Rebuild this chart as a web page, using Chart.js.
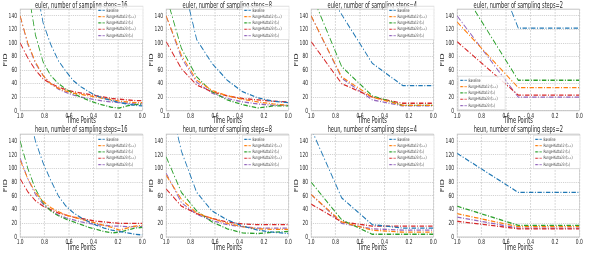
<!DOCTYPE html>
<html>
<head>
<meta charset="utf-8">
<script src="https://cdn.jsdelivr.net/npm/chart.js@4.4.1/dist/chart.umd.min.js"></script>
<style>
  html, body { margin: 0; padding: 0; background: #fff; }
  body { width: 598px; height: 253px; overflow: hidden; position: relative; }
  #fig { position: absolute; left: 0; top: 0; width: 598px; height: 253px; }
  #fig canvas { position: absolute; }
</style>
</head>
<body>
<div id="fig"></div>
<script>
const T16 = [1.0, 0.9375, 0.875, 0.8125, 0.75, 0.6875, 0.625, 0.5625, 0.5, 0.4375, 0.375, 0.3125, 0.25, 0.1875, 0.125, 0.0625, 0.0];
const T8 = [1.0, 0.875, 0.75, 0.625, 0.5, 0.375, 0.25, 0.125, 0.0];
const T4 = [1.0, 0.75, 0.5, 0.25, 0.0];
const T2 = [1.0, 0.5, 0.0];

const SERIES = ['Baseline', 'Runge-Kutta12 (tₙ₋₁)', 'Runge-Kutta12 (tₙ)', 'Runge-Kutta23 (tₙ₋₁)', 'Runge-Kutta23 (tₙ)'];
const COLORS = ['#1f77b4', '#ff7f0e', '#2ca02c', '#d62728', '#9467bd'];

// euler
const euler16Base = [330, 255, 190, 130, 98, 74, 58, 44, 35, 28, 22, 18, 15, 12, 10, 8, 7];
const euler16Rk12Prev = [140, 100, 72, 52, 40, 33, 29, 26, 24, 22, 20, 18, 16, 14, 13, 12, 12];
const euler16Rk12Cur = [230, 180, 112, 72, 52, 40, 32, 25, 20, 15, 11, 8, 5, 4, 7, 9, 10];
const euler16Rk23Prev = [100, 78, 60, 47, 40, 35, 31, 28, 26, 24, 22, 20, 18, 17, 16, 15, 15];
const euler16Rk23Cur = [140, 98, 70, 52, 40, 32, 27, 23, 20, 18, 16, 14, 13, 12, 11, 10, 10];

const euler8Base = [300, 200, 105, 70, 45, 28, 19, 14, 12];
const euler8Rk12Prev = [140, 82, 45, 30, 22, 17, 13, 10, 8];
const euler8Rk12Cur = [170, 92, 50, 28, 16, 9, 4, 7, 7];
const euler8Rk23Prev = [102, 62, 38, 28, 22, 18, 16, 14, 13];
const euler8Rk23Cur = [140, 78, 42, 26, 18, 13, 10, 8, 8];

const euler4Base = [215, 142, 70, 37, 37];
const euler4Rk12Prev = [140, 50, 20, 8, 8];
const euler4Rk12Cur = [174, 65, 22, 8, 8];
const euler4Rk23Prev = [102, 40, 20, 11, 11];
const euler4Rk23Cur = [140, 48, 16, 7, 7];

const euler2Base = [350, 122, 122];
const euler2Rk12Prev = [131, 34, 34];
const euler2Rk12Cur = [190, 45, 45];
const euler2Rk23Prev = [102, 23, 23];
const euler2Rk23Cur = [140, 20, 20];

// heun
const heun16Base = [240, 185, 140, 108, 83, 60, 45, 35, 28, 22, 17, 13, 10, 8, 6, 4, 3];
const heun16Rk12Prev = [112, 85, 65, 52, 43, 37, 32, 29, 26, 23, 20, 17, 14, 10, 13, 16, 17];
const heun16Rk12Cur = [140, 100, 70, 50, 38, 31, 26, 22, 18, 14, 11, 8, 6, 7, 10, 13, 14];
const heun16Rk23Prev = [85, 66, 53, 45, 40, 35, 32, 29, 27, 25, 23, 22, 21, 20, 20, 20, 20];
const heun16Rk23Cur = [115, 85, 62, 48, 39, 32, 28, 25, 22, 20, 18, 17, 16, 16, 15, 15, 15];

const heun8Base = [220, 125, 65, 38, 25, 16, 10, 7, 5];
const heun8Rk12Prev = [90, 55, 35, 27, 20, 15, 12, 11, 11];
const heun8Rk12Cur = [117, 65, 38, 22, 12, 6, 5, 7, 8];
const heun8Rk23Prev = [70, 45, 34, 27, 22, 19, 18, 18, 18];
const heun8Rk23Cur = [93, 50, 33, 24, 18, 15, 13, 13, 13];

const heun4Base = [158, 57, 18, 13, 13];
const heun4Rk12Prev = [62, 22, 10, 7, 7];
const heun4Rk12Cur = [80, 25, 4, 4, 4];
const heun4Rk23Prev = [48, 22, 16, 16, 16];
const heun4Rk23Cur = [62, 20, 12, 10, 10];

const heun2Base = [122, 65, 65];
const heun2Rk12Prev = [34, 15, 15];
const heun2Rk12Cur = [45, 17, 17];
const heun2Rk23Prev = [23, 12, 12];
const heun2Rk23Cur = [29, 13, 13];

const PANELS = [
  { title: 'euler, number of sampling steps=16', t: T16, ys: [euler16Base, euler16Rk12Prev, euler16Rk12Cur, euler16Rk23Prev, euler16Rk23Cur], row: 0, col: 0, corner: 'ne' },
  { title: 'euler, number of sampling steps=8', t: T8, ys: [euler8Base, euler8Rk12Prev, euler8Rk12Cur, euler8Rk23Prev, euler8Rk23Cur], row: 0, col: 1, corner: 'ne' },
  { title: 'euler, number of sampling steps=4', t: T4, ys: [euler4Base, euler4Rk12Prev, euler4Rk12Cur, euler4Rk23Prev, euler4Rk23Cur], row: 0, col: 2, corner: 'ne' },
  { title: 'euler, number of sampling steps=2', t: T2, ys: [euler2Base, euler2Rk12Prev, euler2Rk12Cur, euler2Rk23Prev, euler2Rk23Cur], row: 0, col: 3, corner: 'sw' },
  { title: 'heun, number of sampling steps=16', t: T16, ys: [heun16Base, heun16Rk12Prev, heun16Rk12Cur, heun16Rk23Prev, heun16Rk23Cur], row: 1, col: 0, corner: 'ne' },
  { title: 'heun, number of sampling steps=8', t: T8, ys: [heun8Base, heun8Rk12Prev, heun8Rk12Cur, heun8Rk23Prev, heun8Rk23Cur], row: 1, col: 1, corner: 'ne' },
  { title: 'heun, number of sampling steps=4', t: T4, ys: [heun4Base, heun4Rk12Prev, heun4Rk12Cur, heun4Rk23Prev, heun4Rk23Cur], row: 1, col: 2, corner: 'ne' },
  { title: 'heun, number of sampling steps=2', t: T2, ys: [heun2Base, heun2Rk12Prev, heun2Rk12Cur, heun2Rk23Prev, heun2Rk23Cur], row: 1, col: 3, corner: 'ne' },
];

// the source figure is squeezed sideways: lay out wide, draw with an x scale
const SX = 0.63;
const ROWS = [
  { top: 0, height: 125, titlePad: { top: -1, bottom: -0.7 }, xAxisH: 14.3, xTitlePad: 0, legendTop: -3 },
  { top: 125, height: 128, titlePad: { top: -1, bottom: 0.3 }, xAxisH: 16, xTitlePad: 1, legendTop: 1 },
];
const COL_LEFT = [0, 231, 462, 693];
const Y_AXIS_W = 32, PLOT_W = 194, PAD_R = 8;
const TEXT = '#262626';

Chart.defaults.font.family = "'DejaVu Sans', sans-serif";
Chart.defaults.color = TEXT;

const squeeze = {
  id: 'squeeze',
  beforeDraw(chart) {
    chart.ctx.setTransform(SX, 0, 0, 1, 0, 0);
  },
};

// matplotlib style box round the axes
const frame = {
  id: 'frame',
  beforeDatasetsDraw(chart) {
    const { ctx, chartArea: a } = chart;
    ctx.save();
    ctx.strokeStyle = '#c4c4c4';
    ctx.lineWidth = 1;
    ctx.strokeRect(a.left, a.top, a.width, a.height);
    ctx.restore();
  },
};

// small legend inside the axes, in a corner
const panelLegend = {
  id: 'panelLegend',
  afterDatasetsDraw(chart, args, opts) {
    const { ctx, chartArea: a } = chart;
    const rowH = 6.3, w = 74, h = rowH * 5 + 2;
    const x = opts.corner === 'sw' ? a.left + 2 : a.right - w + 1;
    const y = opts.corner === 'sw' ? a.bottom - h - 1 : a.top + opts.top;
    ctx.save();
    ctx.fillStyle = 'rgba(255,255,255,0.85)';
    ctx.strokeStyle = '#d8d8d8';
    ctx.lineWidth = 0.8;
    ctx.fillRect(x, y, w, h);
    ctx.strokeRect(x, y, w, h);
    ctx.font = "4.5px 'DejaVu Sans'";
    ctx.textBaseline = 'middle';
    chart.data.datasets.forEach((ds, i) => {
      const cy = y + 1 + rowH * (i + 0.5);
      ctx.strokeStyle = ds.borderColor;
      ctx.lineWidth = 1.2;
      ctx.setLineDash([4, 1.5, 1, 1.5]);
      ctx.beginPath();
      ctx.moveTo(x + 3, cy);
      ctx.lineTo(x + 13, cy);
      ctx.stroke();
      ctx.setLineDash([]);
      ctx.fillStyle = '#333';
      ctx.fillText(ds.label, x + 16, cy);
    });
    ctx.restore();
  },
};

function makePanel(p) {
  const row = ROWS[p.row];
  const canvas = document.createElement('canvas');
  canvas.width = Y_AXIS_W + PLOT_W + PAD_R;
  canvas.height = row.height;
  canvas.style.left = (COL_LEFT[p.col] * SX) + 'px';
  canvas.style.top = row.top + 'px';
  document.getElementById('fig').appendChild(canvas);

  new Chart(canvas, {
    type: 'line',
    data: {
      datasets: p.ys.map((ys, i) => ({
        label: SERIES[i],
        data: p.t.map((t, j) => ({ x: t, y: ys[j] })),
        borderColor: COLORS[i],
        borderWidth: 1.3,
        borderDash: [7, 2.5, 1.5, 2.5],
        pointRadius: 0,
        tension: 0,
        fill: false,
      })),
    },
    options: {
      responsive: false,
      animation: false,
      devicePixelRatio: 1,
      events: [],
      layout: { padding: { left: 0, right: PAD_R, top: 0, bottom: 0 }, autoPadding: false },
      plugins: {
        legend: { display: false },
        tooltip: { enabled: false },
        title: {
          display: true, text: p.title, fullSize: false, color: TEXT,
          font: { size: 8, weight: 'normal', lineHeight: 1 },
          padding: row.titlePad,
        },
        panelLegend: { corner: p.corner, top: row.legendTop },
      },
      scales: {
        x: {
          type: 'linear', reverse: true, min: 0, max: 1,
          afterFit: s => { s.height = row.xAxisH; },
          ticks: { stepSize: 0.2, padding: 1, font: { size: 7 }, maxRotation: 0, autoSkip: false, callback: v => v.toFixed(1) },
          grid: { color: '#b4b4b4', lineWidth: 0.8, drawTicks: false },
          border: { display: false, dash: [1.5, 1.5] },
          title: { display: true, text: 'Time Points', font: { size: 8, lineHeight: 1 }, padding: { top: 0, bottom: row.xTitlePad } },
        },
        y: {
          min: 0, max: 150,
          afterFit: s => { s.width = Y_AXIS_W; },
          ticks: { stepSize: 20, includeBounds: false, padding: 5, font: { size: 7 } },
          grid: { color: '#b4b4b4', lineWidth: 0.8, drawTicks: false },
          border: { display: false, dash: [1.5, 1.5] },
          title: { display: true, text: 'FID', font: { size: 8, lineHeight: 1 }, padding: { top: 5.5, bottom: 0 } },
        },
      },
    },
    plugins: [squeeze, frame, panelLegend],
  });
}

PANELS.forEach(makePanel);
</script>
</body>
</html>
